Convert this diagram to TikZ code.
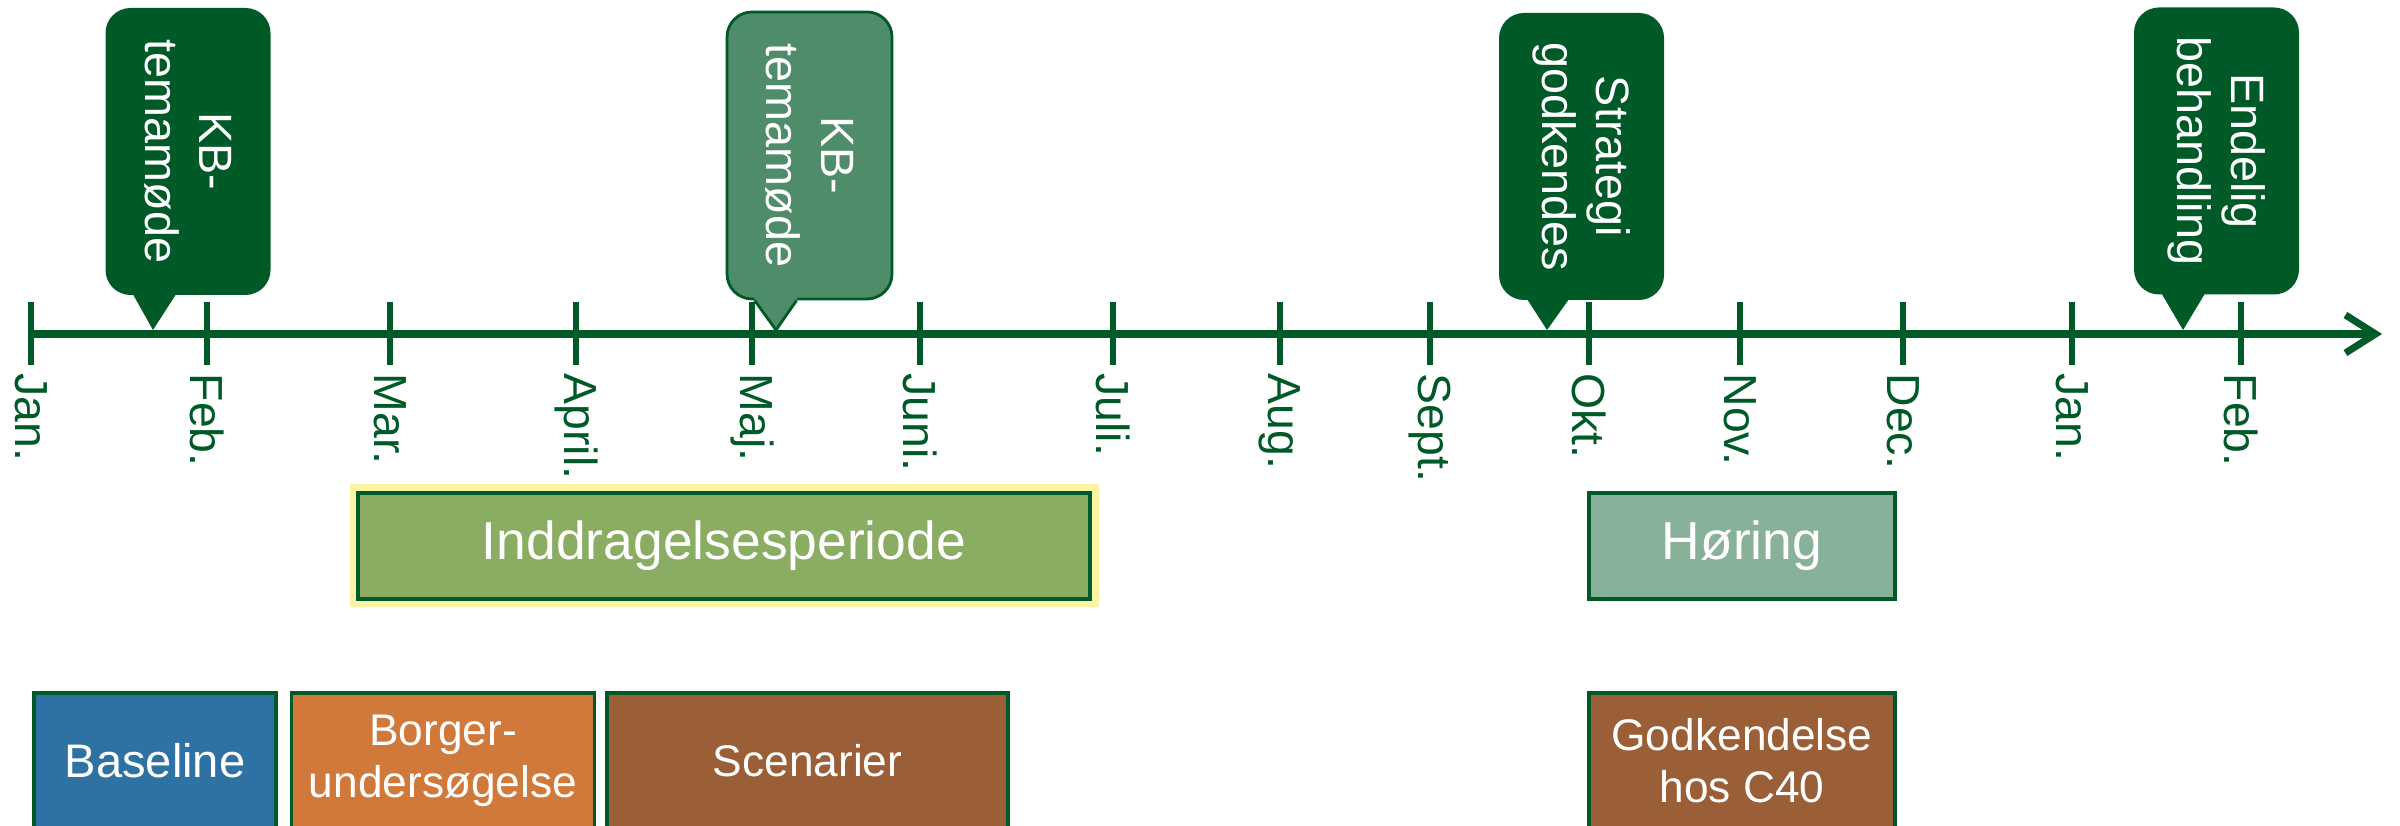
\documentclass[tikz,border=0pt]{standalone}
\usepackage{fontspec}
\setmainfont{Liberation Sans}
\usetikzlibrary{arrows.meta}
\usetikzlibrary{positioning}

\definecolor{kbgreen}{HTML}{005A28}
\definecolor{kbmid}{HTML}{4F8C69}
\definecolor{inddrag}{HTML}{8AAD63}
\definecolor{hoering}{HTML}{88B19A}
\definecolor{baseblue}{HTML}{2E72A4}
\definecolor{borgorange}{HTML}{D1783B}
\definecolor{scenbrown}{HTML}{9A5F37}
\definecolor{glow}{HTML}{FCF4A4}

\tikzset{month/.style = {anchor = west, rotate = -90, inner sep = 0.03cm, text = kbgreen, font = \fontsize{13.2}{15}\selectfont}}
\tikzset{bubble/.style = {rotate = -90, fill = kbgreen, text = white, rounded corners = 0.25cm, minimum width = 2.87cm, minimum height = 1.65cm, inner sep = 0, align = center, font = \fontsize{13.3}{15.5}\selectfont}}
\tikzset{phase/.style = {draw = kbgreen, line width = 1pt, text = white, minimum height = 1.06cm, inner sep = 0, align = center, font = \fontsize{15.2}{18}\selectfont}}
\tikzset{task/.style = {draw = kbgreen, line width = 1pt, text = white, minimum height = 1.36cm, inner sep = 0, align = center, font = \fontsize{12.6}{14.8}\selectfont}}
\tikzset{tick/.style = {kbgreen, line width = 1.7pt}}
\tikzset{axis/.style = {kbgreen, line width = 2pt, -{Straight Barb[length = 0.3cm, width = 0.38cm]}}}

\begin{document}
\begin{tikzpicture}
    \useasboundingbox (0, 0) rectangle (24, 8.26);

    % tidslinje
    \coordinate (start) at (0.31, 4.92);
    \coordinate (end) at (23.82, 4.92);
    \draw [axis] (start) -- (end);

    \draw [tick] (0.31, 4.61) -- +(0, 0.63);
    \draw [tick] (2.07, 4.61) -- +(0, 0.63);
    \draw [tick] (3.90, 4.61) -- +(0, 0.63);
    \draw [tick] (5.76, 4.61) -- +(0, 0.63);
    \draw [tick] (7.52, 4.61) -- +(0, 0.63);
    \draw [tick] (9.20, 4.61) -- +(0, 0.63);
    \draw [tick] (11.13, 4.61) -- +(0, 0.63);
    \draw [tick] (12.80, 4.61) -- +(0, 0.63);
    \draw [tick] (14.30, 4.61) -- +(0, 0.63);
    \draw [tick] (15.89, 4.61) -- +(0, 0.63);
    \draw [tick] (17.40, 4.61) -- +(0, 0.63);
    \draw [tick] (19.03, 4.61) -- +(0, 0.63);
    \draw [tick] (20.72, 4.61) -- +(0, 0.63);
    \draw [tick] (22.41, 4.61) -- +(0, 0.63);

    \node [month] (jan) at (0.31, 4.56) {Jan.};
    \node [month] (feb) at (2.07, 4.56) {Feb.};
    \node [month] (mar) at (3.90, 4.56) {Mar.};
    \node [month] (apr) at (5.76, 4.56) {April.};
    \node [month] (maj) at (7.52, 4.56) {Maj.};
    \node [month] (jun) at (9.20, 4.56) {Juni.};
    \node [month] (jul) at (11.13, 4.56) {Juli.};
    \node [month] (aug) at (12.80, 4.56) {Aug.};
    \node [month] (sep) at (14.30, 4.56) {Sept.};
    \node [month] (okt) at (15.89, 4.56) {Okt.};
    \node [month] (nov) at (17.40, 4.56) {Nov.};
    \node [month] (dec) at (19.03, 4.56) {Dec.};
    \node [month] (jan2) at (20.72, 4.56) {Jan.};
    \node [month] (feb2) at (22.41, 4.56) {Feb.};

    % milepæle
    \coordinate (kb1tip) at (1.53, 4.96);
    \coordinate (kb2tip) at (7.76, 4.96);
    \coordinate (strattip) at (15.47, 4.96);
    \coordinate (endtip) at (21.83, 4.96);

    \node [bubble] (kb1) at (1.88, 6.745) {KB-\\temamøde};
    \fill [kbgreen] ([xshift = 0.233cm, yshift = 0.1cm]kb1.south east) -- (kb1tip) -- ([xshift = 0.767cm, yshift = 0.1cm]kb1.south east) -- cycle;

    \node [bubble, fill = kbmid, draw = kbgreen, line width = 0.8pt] (kb2) at (8.095, 6.705) {KB-\\temamøde};
    \fill [kbmid] ([xshift = 0.233cm, yshift = 0.1cm]kb2.south east) -- (kb2tip) -- ([xshift = 0.767cm, yshift = 0.1cm]kb2.south east) -- cycle;
    \draw [kbgreen, line width = 0.8pt] ([xshift = 0.29cm]kb2.south east) -- (kb2tip) -- ([xshift = 0.71cm]kb2.south east);

    \node [bubble] (strat) at (15.815, 6.695) {Strategi\\godkendes};
    \fill [kbgreen] ([xshift = 0.233cm, yshift = 0.1cm]strat.south east) -- (strattip) -- ([xshift = 0.767cm, yshift = 0.1cm]strat.south east) -- cycle;

    \node [bubble] (endbeh) at (22.165, 6.75) {Endelig\\behandling};
    \fill [kbgreen] ([xshift = 0.233cm, yshift = 0.1cm]endbeh.south east) -- (endtip) -- ([xshift = 0.767cm, yshift = 0.1cm]endbeh.south east) -- cycle;

    % perioder
    \node [phase, fill = inddrag, minimum width = 7.32cm, line width = 1.4pt, preaction = {draw = glow, line width = 0.17cm}] (inddrag) at (7.24, 2.80) {Inddragelsesperiode};
    \node [phase, fill = hoering, minimum width = 3.06cm] (hoering) at (17.42, 2.80) {Høring};

    \node [task, fill = baseblue, minimum width = 2.42cm, font = \fontsize{13.4}{15}\selectfont] (baseline) at (1.55, 0.65) {Baseline};
    \node [task, fill = borgorange, minimum width = 3.03cm, right = 0.12cm of baseline] (borger) {Borger-\\undersøgelse};
    \node [task, fill = scenbrown, minimum width = 4.01cm, right = 0.09cm of borger] (scenarier) {Scenarier};
    \node [task, fill = scenbrown, minimum width = 3.06cm] (godkend) at (17.42, 0.65) {Godkendelse\\hos C40};
\end{tikzpicture}
\end{document}
